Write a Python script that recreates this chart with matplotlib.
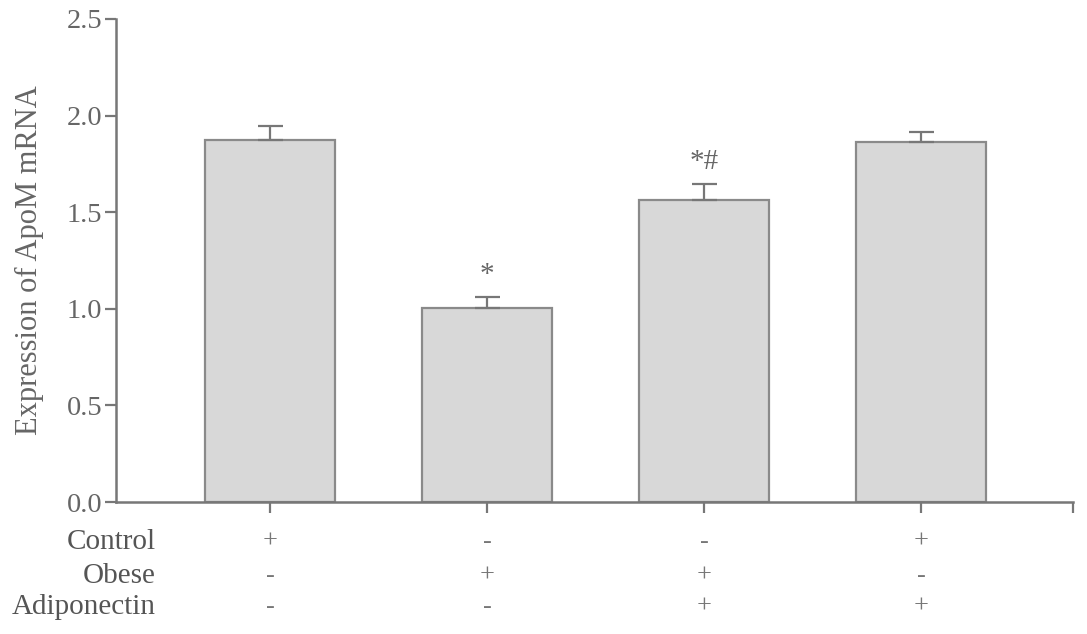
import matplotlib
matplotlib.use("Agg")
import matplotlib.pyplot as plt

groups = ["G1", "G2", "G3", "G4"]
means = [1.874, 1.004, 1.563, 1.863]
errors = [0.072, 0.057, 0.083, 0.052]
annotations = ["", "*", "*#", ""]
row_labels = ["Control", "Obese", "Adiponectin"]
row_signs = [["+", "-", "-", "+"],
             ["-", "+", "+", "-"],
             ["-", "-", "+", "+"]]
yticks = [0.0, 0.5, 1.0, 1.5, 2.0, 2.5]

plt.rcParams['font.family'] = ['Liberation Serif', 'DejaVu Serif']
txt = "#666666"
axc = "#777777"

fig = plt.figure(figsize=(10.87, 6.34), dpi=100)
ax = fig.add_axes([116/1087, 132/634, (1073-116)/1087, 483/634])

x = list(range(len(groups)))
ax.bar(x, means, width=0.6, color="#d8d8d8", edgecolor="#8a8a8a", linewidth=1.6, zorder=2)
ax.errorbar(x, means, yerr=[[0]*4, errors], fmt="none", ecolor="#777777",
            elinewidth=1.6, capsize=9, capthick=1.6, zorder=3)
for xi, m, e, a in zip(x, means, errors, annotations):
    if a:
        ax.text(xi, m + e + 0.045, a, ha="center", va="bottom", fontsize=21, color=txt)

ax.set_xlim(-0.71, 3.70)
ax.set_ylim(0, 2.5)
ax.set_yticks(yticks)
ax.set_yticklabels([f"{v:.1f}" for v in yticks], fontsize=20.5, color=txt)
ax.set_xticks(x)
ax.set_xticklabels([])
ax.set_xticks([3.70], minor=True)
ax.tick_params(axis="both", which="both", color=axc, width=1.6, length=8)
ax.tick_params(axis="y", pad=2)
for s in ["top", "right"]:
    ax.spines[s].set_visible(False)
for s in ["left", "bottom"]:
    ax.spines[s].set_color(axc)
    ax.spines[s].set_linewidth(1.8)
ax.set_ylabel("Expression of ApoM mRNA", fontsize=22, color=txt, labelpad=16)

row_y = [542, 576, 607]
for label, signs, yp in zip(row_labels, row_signs, row_y):
    fig.text(156/1087, 1 - yp/634, label, ha="right", va="center", fontsize=21, color="#555555")
    for xi, s in zip(x, signs):
        xd = ax.transData.transform((xi, 0))[0] / fig.bbox.width
        fig.text(xd, 1 - yp/634, s, ha="center", va="center", fontsize=19, color="#777777")

fig.savefig("out.png", dpi=100, facecolor="white")
